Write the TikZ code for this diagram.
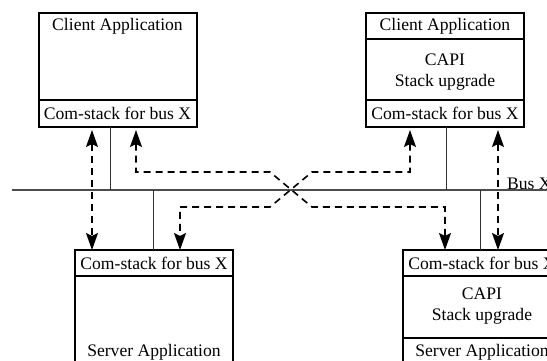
\documentclass[tikz,border=0pt]{standalone}
\usepackage{fontspec}
\setmainfont{Liberation Serif}
\usetikzlibrary{arrows.meta,calc}
\begin{document}
\begin{tikzpicture}[x=1pt,y=-1pt,
  part/.style={draw=black,line width=1.3pt,anchor=north west,inner sep=0pt,outer sep=0pt,minimum width=158pt},
  lbl/.style={font=\fontsize{17.6}{20.5}\selectfont,inner sep=0pt,align=center},
  bus/.style={draw=black!70,line width=1.5pt},
  stem/.style={draw=black!80,line width=1pt},
  msg/.style={draw=black,line width=1.6pt,dash pattern=on 7pt off 5pt,
    {Stealth[length=17pt,width=12pt,inset=3pt]}-{Stealth[length=17pt,width=12pt,inset=3pt]}}
]
\clip (0,0) rectangle (547,360);

% client on the left
\node[part,minimum height=87pt] (ca) at (39,13) {};
\node[part,minimum height=27pt] (cacom) at (39,100) {};
\node[lbl] (catxt) at (117.5,26) {Client Application};
\node[lbl] (cacomtxt) at (117.5,113.5) {Com-stack for bus X};

% client on the right, with the CAPI layer
\node[part,minimum height=26pt] (cb) at (366,13) {};
\node[part,minimum height=61pt] (cbcapi) at (366,39) {};
\node[part,minimum height=27pt] (cbcom) at (366,100) {};
\node[lbl] (cbtxt) at (445,26) {Client Application};
\node[lbl] (cbcapitxt) at (445,72) {CAPI\\Stack upgrade};
\node[lbl] (cbcomtxt) at (445,113.5) {Com-stack for bus X};

% server on the left
\node[part,minimum height=26pt] (sacom) at (75,250) {};
\node[part,minimum height=100pt] (saapp) at (75,276) {};
\node[lbl] (sacomtxt) at (154,263) {Com-stack for bus X};
\node[lbl] (saapptxt) at (154,352) {Server Application};

% server on the right, with the CAPI layer
\node[part,minimum height=26pt] (sbcom) at (403,250) {};
\node[part,minimum height=62pt] (sbcapi) at (403,276) {};
\node[part,minimum height=40pt] (sbapp) at (403,338) {};
\node[lbl] (sbcomtxt) at (482,263) {Com-stack for bus X};
\node[lbl] (sbcapitxt) at (482,306) {CAPI\\Stack upgrade};
\node[lbl] (sbapptxt) at (482,352) {Server Application};

% the bus
\coordinate (busL) at (12,190);
\coordinate (busR) at (560,190);
\draw[bus] (busL) -- (busR);
\node[lbl,anchor=base west] (buslbl) at (507,189) {Bus X};

% stems to the bus
\draw[stem] ([xshift=71pt]cacom.south west) -- ([xshift=71pt]cacom.south west |- busL);
\draw[stem] ([xshift=80pt]cbcom.south west) -- ([xshift=80pt]cbcom.south west |- busL);
\draw[stem] ([xshift=78pt]sacom.north west) -- ([xshift=78pt]sacom.north west |- busL);
\draw[stem] ([xshift=77pt]sbcom.north west) -- ([xshift=77pt]sbcom.north west |- busL);

% message paths
\coordinate (xul) at (270,172);
\coordinate (xur) at (312,172);
\coordinate (xll) at (270,207);
\coordinate (xlr) at (312,207);

\draw[msg] ([xshift=53pt,yshift=-3pt]cacom.south west) -- ([xshift=17pt]sacom.north west);
\draw[msg] ([xshift=97pt,yshift=-3pt]cacom.south west) |- (xul) -- (xlr)
  -| ([xshift=42pt]sbcom.north west);
\draw[msg] ([xshift=44pt,yshift=-3pt]cbcom.south west) |- (xur) -- (xll)
  -| ([xshift=105pt]sacom.north west);
\draw[msg] ([xshift=132pt,yshift=-3pt]cbcom.south west) -- ([xshift=95pt]sbcom.north west);
\end{tikzpicture}
\end{document}
